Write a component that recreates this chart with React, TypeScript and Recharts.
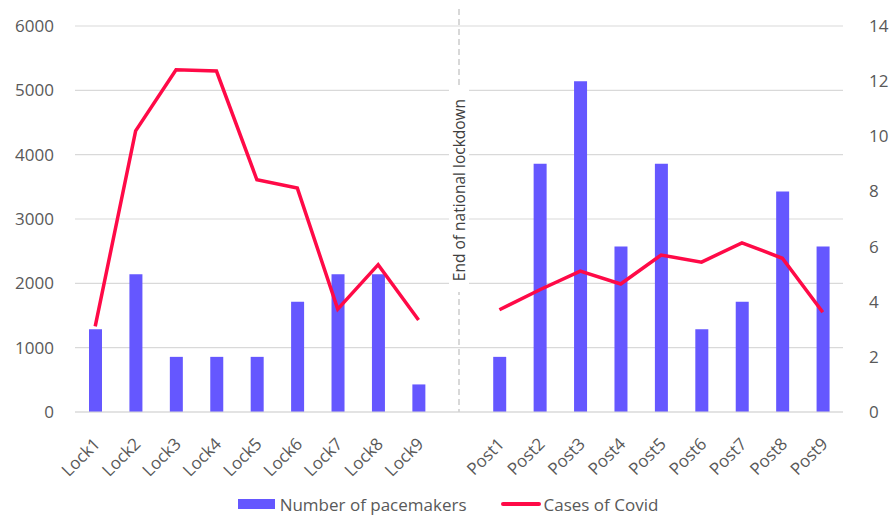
import React from "react";
import {
  ComposedChart,
  Bar,
  Line,
  XAxis,
  YAxis,
  CartesianGrid,
  ReferenceLine,
  Legend,
} from "recharts";

const categories = [
  "Lock1", "Lock2", "Lock3", "Lock4", "Lock5", "Lock6", "Lock7", "Lock8", "Lock9",
  "gap",
  "Post1", "Post2", "Post3", "Post4", "Post5", "Post6", "Post7", "Post8", "Post9",
];
const tickLabels = [
  "Lock1", "Lock2", "Lock3", "Lock4", "Lock5", "Lock6", "Lock7", "Lock8", "Lock9",
  "",
  "Post1", "Post2", "Post3", "Post4", "Post5", "Post6", "Post7", "Post8", "Post9",
];
const pacemakers: (number | null)[] = [3, 5, 2, 2, 2, 4, 5, 5, 1, null, 2, 9, 12, 6, 9, 3, 4, 8, 6];
const covidCases: (number | null)[] = [
  1330, 4370, 5320, 5300, 3610, 3480, 1600, 2290, 1430, null,
  1590, 1900, 2190, 1990, 2440, 2330, 2630, 2390, 1550,
];
const leftTicks = [0, 1000, 2000, 3000, 4000, 5000, 6000];
const rightTicks = [0, 2, 4, 6, 8, 10, 12, 14];
const dividerLabel = "End of national lockdown";
const seriesNames = { bar: "Number of pacemakers", line: "Cases of Covid" };

const data = categories.map((c, i) => ({
  cat: c,
  label: tickLabels[i],
  pacemakers: pacemakers[i],
  covid: covidCases[i],
}));

const FONT = "'Open Sans', 'Noto Sans', sans-serif";
const BAR_COLOR = "#6557ff";
const LINE_COLOR = "#ff0a47";
const TEXT_COLOR = "#595959";

const XTick = (props: any) => {
  const { x, y, index } = props;
  const label = tickLabels[index];
  if (!label) return null;
  const ax = x + 6;
  const ay = y + 25;
  return (
    <text
      x={ax}
      y={ay}
      transform={`rotate(-45 ${ax} ${ay})`}
      textAnchor="end"
      fontFamily={FONT}
      fontSize={17}
      fill={TEXT_COLOR}
    >
      {label}
    </text>
  );
};

const DividerShape = (props: any) => {
  const { x1, y1, y2 } = props;
  const top = Math.min(y1, y2);
  const bottom = Math.max(y1, y2);
  const cy = 190;
  return (
    <g>
      <line x1={x1} y1={top - 17} x2={x1} y2={bottom} stroke="#bfbfbf" strokeWidth={1.2} strokeDasharray="6 4" />
      <rect x={x1 - 10} y={88} width={20} height={204} fill="#ffffff" />
      <text
        x={x1}
        y={cy}
        transform={`rotate(-90 ${x1} ${cy})`}
        textAnchor="middle"
        dominantBaseline="central"
        fontFamily={FONT}
        fontSize={15.5}
        fill="#404040"
      >
        {dividerLabel}
      </text>
    </g>
  );
};

const LegendContent = () => (
  <div
    style={{
      display: "flex",
      justifyContent: "center",
      alignItems: "center",
      fontFamily: FONT,
      fontSize: 17,
      color: TEXT_COLOR,
      height: 24,
    }}
  >
    <span style={{ display: "inline-block", width: 37, height: 10, background: BAR_COLOR, marginRight: 5 }} />
    <span style={{ marginRight: 34 }}>{seriesNames.bar}</span>
    <span style={{ display: "inline-block", width: 40, height: 4, background: LINE_COLOR, marginRight: 3, borderRadius: 2 }} />
    <span>{seriesNames.line}</span>
  </div>
);

export default function App() {
  return (
    <div style={{ position: "absolute", left: 0, top: 0, width: 896, height: 516, background: "#fff" }}>
      <ComposedChart
        width={896}
        height={516}
        data={data}
        margin={{ top: 26, right: 0, bottom: 0, left: 0 }}
        barCategoryGap={0}
      >
        <CartesianGrid vertical={false} stroke="#d9d9d9" strokeWidth={1.2} yAxisId="left" />
        <XAxis
          dataKey="cat"
          xAxisId={0}
          interval={0}
          tick={<XTick />}
          tickLine={false}
          axisLine={{ stroke: "#d9d9d9", strokeWidth: 1.2 }}
          height={80}
        />
        <YAxis
          yAxisId="left"
          orientation="left"
          domain={[0, 6000]}
          ticks={leftTicks}
          width={75}
          axisLine={false}
          tickLine={false}
          tickMargin={15}
          tick={{ fontFamily: FONT, fontSize: 17, fill: TEXT_COLOR }}
          interval={0}
        />
        <YAxis
          yAxisId="right"
          orientation="right"
          domain={[0, 14]}
          ticks={rightTicks}
          width={53}
          axisLine={false}
          tickLine={false}
          tickMargin={20}
          tick={{ fontFamily: FONT, fontSize: 17, fill: TEXT_COLOR, textAnchor: "start" }}
          interval={0}
        />
        <Bar
          yAxisId="right"
          dataKey="pacemakers"
          name={seriesNames.bar}
          fill={BAR_COLOR}
          barSize={13}
          isAnimationActive={false}
        />
        <Line
          yAxisId="left"
          type="linear"
          dataKey="covid"
          name={seriesNames.line}
          stroke={LINE_COLOR}
          strokeWidth={3.5}
          dot={false}
          activeDot={false}
          connectNulls={false}
          isAnimationActive={false}
        />
        <ReferenceLine yAxisId="left" x="gap" shape={<DividerShape />} />
        <Legend verticalAlign="bottom" height={24} content={<LegendContent />} />
      </ComposedChart>
    </div>
  );
}
